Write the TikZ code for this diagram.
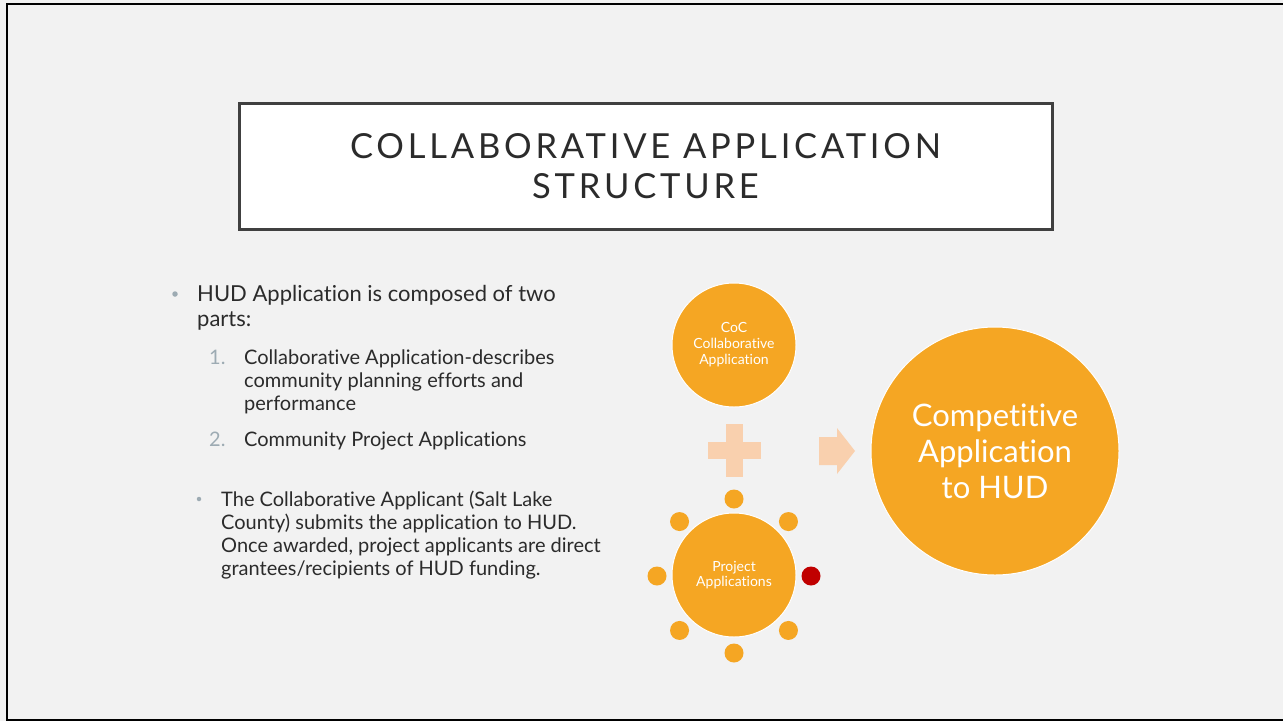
\documentclass[tikz,border=0pt]{standalone}
\usepackage{fontspec}
\usetikzlibrary{calc}
\setmainfont{Lato}[Ligatures={NoCommon}]
\newfontfamily\titlefont[LetterSpace=11,Ligatures={NoCommon}]{Lato}
\definecolor{bgc}{HTML}{F2F2F2}
\definecolor{apporange}{HTML}{F5A623}
\definecolor{peach}{HTML}{F9D0AE}
\definecolor{dotred}{HTML}{C00000}
\definecolor{bulletgray}{HTML}{9DABB3}
\definecolor{txt}{HTML}{2B2B2B}
\definecolor{titleborder}{HTML}{404040}
\begin{document}
\begin{tikzpicture}[x=1pt,y=-1pt,
  titlebox/.style={draw=titleborder, line width=3pt, fill=white, minimum width=813pt, minimum height=126pt, inner sep=0pt},
  bodytext/.style={anchor=base west, text=txt, inner sep=0pt},
  numtext/.style={anchor=base west, text=bulletgray, inner sep=0pt},
  bulletdot/.style={circle, fill=bulletgray, inner sep=0pt, minimum size=#1},
  bigcirc/.style={circle, fill=apporange, draw=white, line width=1pt, minimum size=#1, inner sep=0pt, text=white, align=center},
  smalldot/.style={circle, fill=#1, inner sep=0pt, minimum size=19pt},
  shapefill/.style={fill=peach}
]
\fill[bgc] (0,0) rectangle (1283,721);
\useasboundingbox (0,0) rectangle (1283,721);
\draw[black, line width=2.5pt] (1284,4) -- (7,4) -- (7,720) -- (1284,720);

% title
\node[titlebox] (title) at (645.5,166) {};
\node[font=\titlefont\fontsize{34.5}{39.5}\selectfont, align=center, text=txt, inner sep=0pt] (titletext) at (645.5,166) {COLLABORATIVE APPLICATION\\STRUCTURE};

% bullets
\node[bulletdot=5.5pt] (b1) at (175,294) {};
\node[bodytext, font=\fontsize{22}{25}\selectfont] (t1a) at (197,301) {HUD Application is composed of two};
\node[bodytext, font=\fontsize{22}{25}\selectfont] (t1b) at (197,326) {parts:};

\node[numtext, font=\fontsize{20}{23}\selectfont] (n1) at (209,364) {1.};
\node[bodytext, font=\fontsize{20}{23}\selectfont] (s1a) at (244,364) {Collaborative Application-describes};
\node[bodytext, font=\fontsize{20}{23}\selectfont] (s1b) at (244,387) {community planning efforts and};
\node[bodytext, font=\fontsize{20}{23}\selectfont] (s1c) at (244,410) {performance};
\node[numtext, font=\fontsize{20}{23}\selectfont] (n2) at (209,446) {2.};
\node[bodytext, font=\fontsize{20}{23}\selectfont] (s2) at (244,446) {Community Project Applications};

\node[bulletdot=4.5pt] (b2) at (199,499) {};
\node[bodytext, font=\fontsize{20}{23}\selectfont] (t2a) at (221,506) {The Collaborative Applicant (Salt Lake};
\node[bodytext, font=\fontsize{20}{23}\selectfont] (t2b) at (221,529) {County) submits the application to HUD.};
\node[bodytext, font=\fontsize{20}{23}\selectfont] (t2c) at (221,552) {Once awarded, project applicants are direct};
\node[bodytext, font=\fontsize{20}{23}\selectfont] (t2d) at (221,575) {grantees/recipients of HUD funding.};

% circles
\node[bigcirc=124pt, font=\fontsize{14}{16}\selectfont] (coc) at (734,345) {CoC\\Collaborative\\Application};
\node[bigcirc=124pt, font=\fontsize{14}{15.5}\selectfont] (proj) at (734,575) {Project\\Applications};
\node[bigcirc=248pt, font=\fontsize{31}{36}\selectfont] (comp) at (995,451) {Competitive\\Application\\to HUD};

% satellite dots
\foreach \a/\c [count=\i] in {90/apporange,45/apporange,0/dotred,-45/apporange,-90/apporange,-135/apporange,180/apporange,135/apporange}{
  \node[smalldot=\c] (d\i) at ($(734,576)+(\a:77)$) {};
}

% plus
\fill[shapefill] (726,424) rectangle (743,477);
\fill[shapefill] (708,442) rectangle (761,459);
% arrow
\fill[shapefill] (819,437) -- (837,437) -- (837,428) -- (855,451) -- (837,474) -- (837,465) -- (819,465) -- cycle;
\end{tikzpicture}
\end{document}
